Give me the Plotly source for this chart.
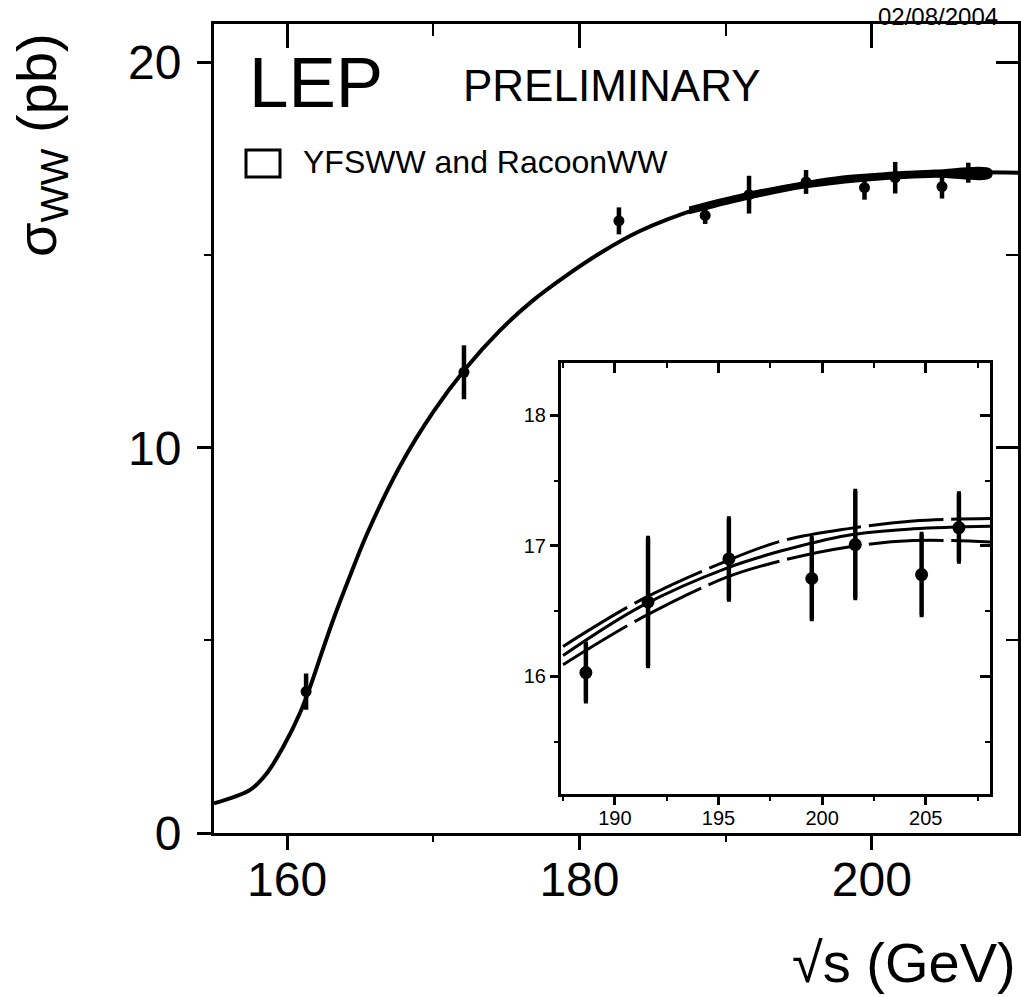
import plotly.graph_objects as go

# LEP combined W-pair cross-section measurements
energies = [161.3, 172.1, 182.7, 188.6, 191.6, 195.5, 199.5, 201.6, 204.8, 206.6]
sigma_ww = [3.67, 11.96, 15.89, 16.03, 16.57, 16.90, 16.75, 17.01, 16.78, 17.14]
sigma_err = [0.47, 0.70, 0.35, 0.22, 0.49, 0.31, 0.31, 0.41, 0.31, 0.26]

# Theory prediction (YFSWW / RacoonWW), central curve over full range
theory_e = [155.0, 157.47, 158.63, 159.73, 160.89, 161.57, 162.39, 163.15, 164.3,
            165.45, 167.72, 170.0, 172.2, 174.55, 176.8, 179.1, 181.4, 184.1,
            188.2, 191.6, 195.5, 199.6, 204.1, 207.0, 210.0]
theory_sigma = [0.77, 1.12, 1.56, 2.23, 3.12, 3.79, 4.70, 5.53, 6.67,
                7.75, 9.52, 10.93, 12.05, 13.04, 13.82, 14.47, 15.05, 15.62,
                16.22, 16.57, 16.86, 17.05, 17.13, 17.15, 17.14]

# Theory uncertainty band in the high-energy region
band_e = [187.5, 191.3, 195.4, 198.0, 201.2, 204.4, 208.1]
band_upper = [16.23, 16.59, 16.885, 17.035, 17.13, 17.19, 17.21]
band_center = [16.16, 16.54, 16.83, 16.96, 17.08, 17.13, 17.15]
band_lower = [16.09, 16.45, 16.76, 16.885, 16.99, 17.04, 17.03]

main_xticks = [160, 180, 200]
main_yticks = [0, 10, 20]
inset_xticks = [190, 195, 200, 205]
inset_yticks = [16, 17, 18]

FONT = "Liberation Sans, Arial, Helvetica, sans-serif"
W, H = 1021, 997
L, R, T, B = 214, 3, 24, 164

fig = go.Figure()

# ---- main panel ----
fig.add_trace(go.Scatter(
    x=band_e + band_e[::-1], y=band_upper + band_lower[::-1],
    fill="toself", fillcolor="black", mode="lines",
    line=dict(color="black", width=2.5, shape="spline"),
    xaxis="x", yaxis="y", hoverinfo="skip", showlegend=False))
fig.add_trace(go.Scatter(
    x=theory_e, y=theory_sigma, mode="lines",
    line=dict(color="black", width=4, shape="spline", smoothing=0.9),
    xaxis="x", yaxis="y", showlegend=False))
fig.add_trace(go.Scatter(
    x=energies, y=sigma_ww, mode="markers",
    marker=dict(color="black", size=11, symbol="circle"),
    error_y=dict(type="data", array=sigma_err, color="black", thickness=4.5, width=0),
    xaxis="x", yaxis="y", showlegend=False))
# carrier for the mirrored top/right axes
fig.add_trace(go.Scatter(x=[None], y=[None], xaxis="x2", yaxis="y2",
                         showlegend=False, hoverinfo="skip"))

# ---- inset panel ----
inset_e = [e for e in energies if e > 187.5]
inset_s = [s for e, s in zip(energies, sigma_ww) if e > 187.5]
inset_err = [d for e, d in zip(energies, sigma_err) if e > 187.5]

for ys, dash in ((band_upper, "75px,8px"), (band_lower, "75px,8px"), (band_center, "solid")):
    fig.add_trace(go.Scatter(
        x=band_e, y=ys, mode="lines",
        line=dict(color="black", width=3, dash=dash, shape="spline"),
        xaxis="x3", yaxis="y3", showlegend=False))
fig.add_trace(go.Scatter(
    x=inset_e, y=inset_s, mode="markers",
    marker=dict(color="black", size=13, symbol="circle"),
    error_y=dict(type="data", array=inset_err, color="black", thickness=4.5, width=2),
    xaxis="x3", yaxis="y3", showlegend=False))
fig.add_trace(go.Scatter(x=[None], y=[None], xaxis="x4", yaxis="y4",
                         showlegend=False, hoverinfo="skip"))

pw, ph = W - L - R, H - T - B


def px_x(p):
    return (p - L) / pw


def px_y(p):
    return (H - B - p) / ph


inset_dx = [px_x(561), px_x(990)]
inset_dy = [px_y(794), px_y(363)]

common = dict(showgrid=False, zeroline=False, showline=True, linecolor="black",
              linewidth=3, tickcolor="black")

fig.update_layout(
    width=W, height=H,
    margin=dict(l=L, r=R, t=T, b=B, pad=0),
    paper_bgcolor="white", plot_bgcolor="white",
    font=dict(family=FONT, color="black"),
    showlegend=False,
    xaxis=dict(range=[155, 210], domain=[0, 1], anchor="y",
               tickvals=main_xticks, ticks="outside", ticklen=14, tickwidth=3,
               tickfont=dict(size=48, family=FONT), ticklabelstandoff=-12,
               minor=dict(tickvals=[170, 190], ticks="outside", ticklen=6, tickwidth=2,
                          tickcolor="black"),
               **common),
    yaxis=dict(range=[0, 21], domain=[0, 1], anchor="x",
               tickvals=main_yticks, ticks="outside", ticklen=14, tickwidth=3,
               tickfont=dict(size=48, family=FONT), ticklabelstandoff=6,
               minor=dict(tickvals=[5, 15], ticks="outside", ticklen=7, tickwidth=2,
                          tickcolor="black"),
               **common),
    xaxis2=dict(range=[155, 210], overlaying="x", side="top", anchor="y",
                tickvals=main_xticks, ticks="inside", ticklen=24, tickwidth=3,
                showticklabels=False,
                minor=dict(tickvals=[170, 190], ticks="inside", ticklen=12, tickwidth=2,
                           tickcolor="black"),
                **common),
    yaxis2=dict(range=[0, 21], overlaying="y", side="right", anchor="x",
                tickvals=main_yticks, ticks="inside", ticklen=22, tickwidth=3,
                showticklabels=False,
                minor=dict(tickvals=[5, 15], ticks="inside", ticklen=12, tickwidth=2,
                           tickcolor="black"),
                **common),
    xaxis3=dict(range=[187.4, 208.1], domain=inset_dx, anchor="y3",
                tickvals=inset_xticks, ticks="outside", ticklen=8, tickwidth=2.5,
                tickfont=dict(size=20, family=FONT), ticklabelstandoff=-4,
                minor=dict(tickvals=[187.5, 192.5, 197.5, 202.5, 207.5], ticks="outside",
                           ticklen=4, tickwidth=2, tickcolor="black"),
                **common),
    yaxis3=dict(range=[15.1, 18.4], domain=inset_dy, anchor="x3",
                tickvals=inset_yticks, ticks="outside", ticklen=8, tickwidth=2.5,
                tickfont=dict(size=20, family=FONT), ticklabelstandoff=0,
                minor=dict(tickvals=[15.5, 16.5, 17.5], ticks="outside",
                           ticklen=4, tickwidth=2, tickcolor="black"),
                **common),
    xaxis4=dict(range=[187.4, 208.1], overlaying="x3", side="top", anchor="y3",
                tickvals=inset_xticks, ticks="inside", ticklen=10, tickwidth=2.5,
                showticklabels=False,
                minor=dict(tickvals=[187.5, 192.5, 197.5, 202.5, 207.5], ticks="inside",
                           ticklen=5, tickwidth=2, tickcolor="black"),
                **common),
    yaxis4=dict(range=[15.1, 18.4], overlaying="y3", side="right", anchor="x3",
                tickvals=inset_yticks, ticks="inside", ticklen=10, tickwidth=2.5,
                showticklabels=False,
                minor=dict(tickvals=[15.5, 16.5, 17.5], ticks="inside",
                           ticklen=5, tickwidth=2, tickcolor="black"),
                **common),
)

# legend symbol for the theory band
fig.add_shape(type="rect", xref="paper", yref="paper",
              x0=px_x(246), x1=px_x(280), y0=px_y(177), y1=px_y(150),
              line=dict(color="black", width=3), fillcolor="white")

annotations = [
    dict(text="LEP", x=px_x(247), y=px_y(82), xanchor="left", yanchor="middle",
         font=dict(size=71)),
    dict(text="PRELIMINARY", x=px_x(461), y=px_y(86), xanchor="left", yanchor="middle",
         font=dict(size=44)),
    dict(text="YFSWW and RacoonWW", x=px_x(301), y=px_y(162), xanchor="left",
         yanchor="middle", font=dict(size=32)),
    dict(text="02/08/2004", x=px_x(938), y=px_y(16), xanchor="center", yanchor="middle",
         font=dict(size=24)),
    dict(text="σ<sub>WW</sub> (pb)", x=px_x(40), y=px_y(145), xanchor="center",
         yanchor="middle", textangle=-90, font=dict(size=56)),
    dict(text="√s (GeV)", x=px_x(1018), y=px_y(962), xanchor="right", yanchor="middle",
         font=dict(size=56)),
]
for a in annotations:
    a.update(xref="paper", yref="paper", showarrow=False)
    a["font"].update(family=FONT, color="black")
    fig.add_annotation(**a)

fig.write_html("out.html")
